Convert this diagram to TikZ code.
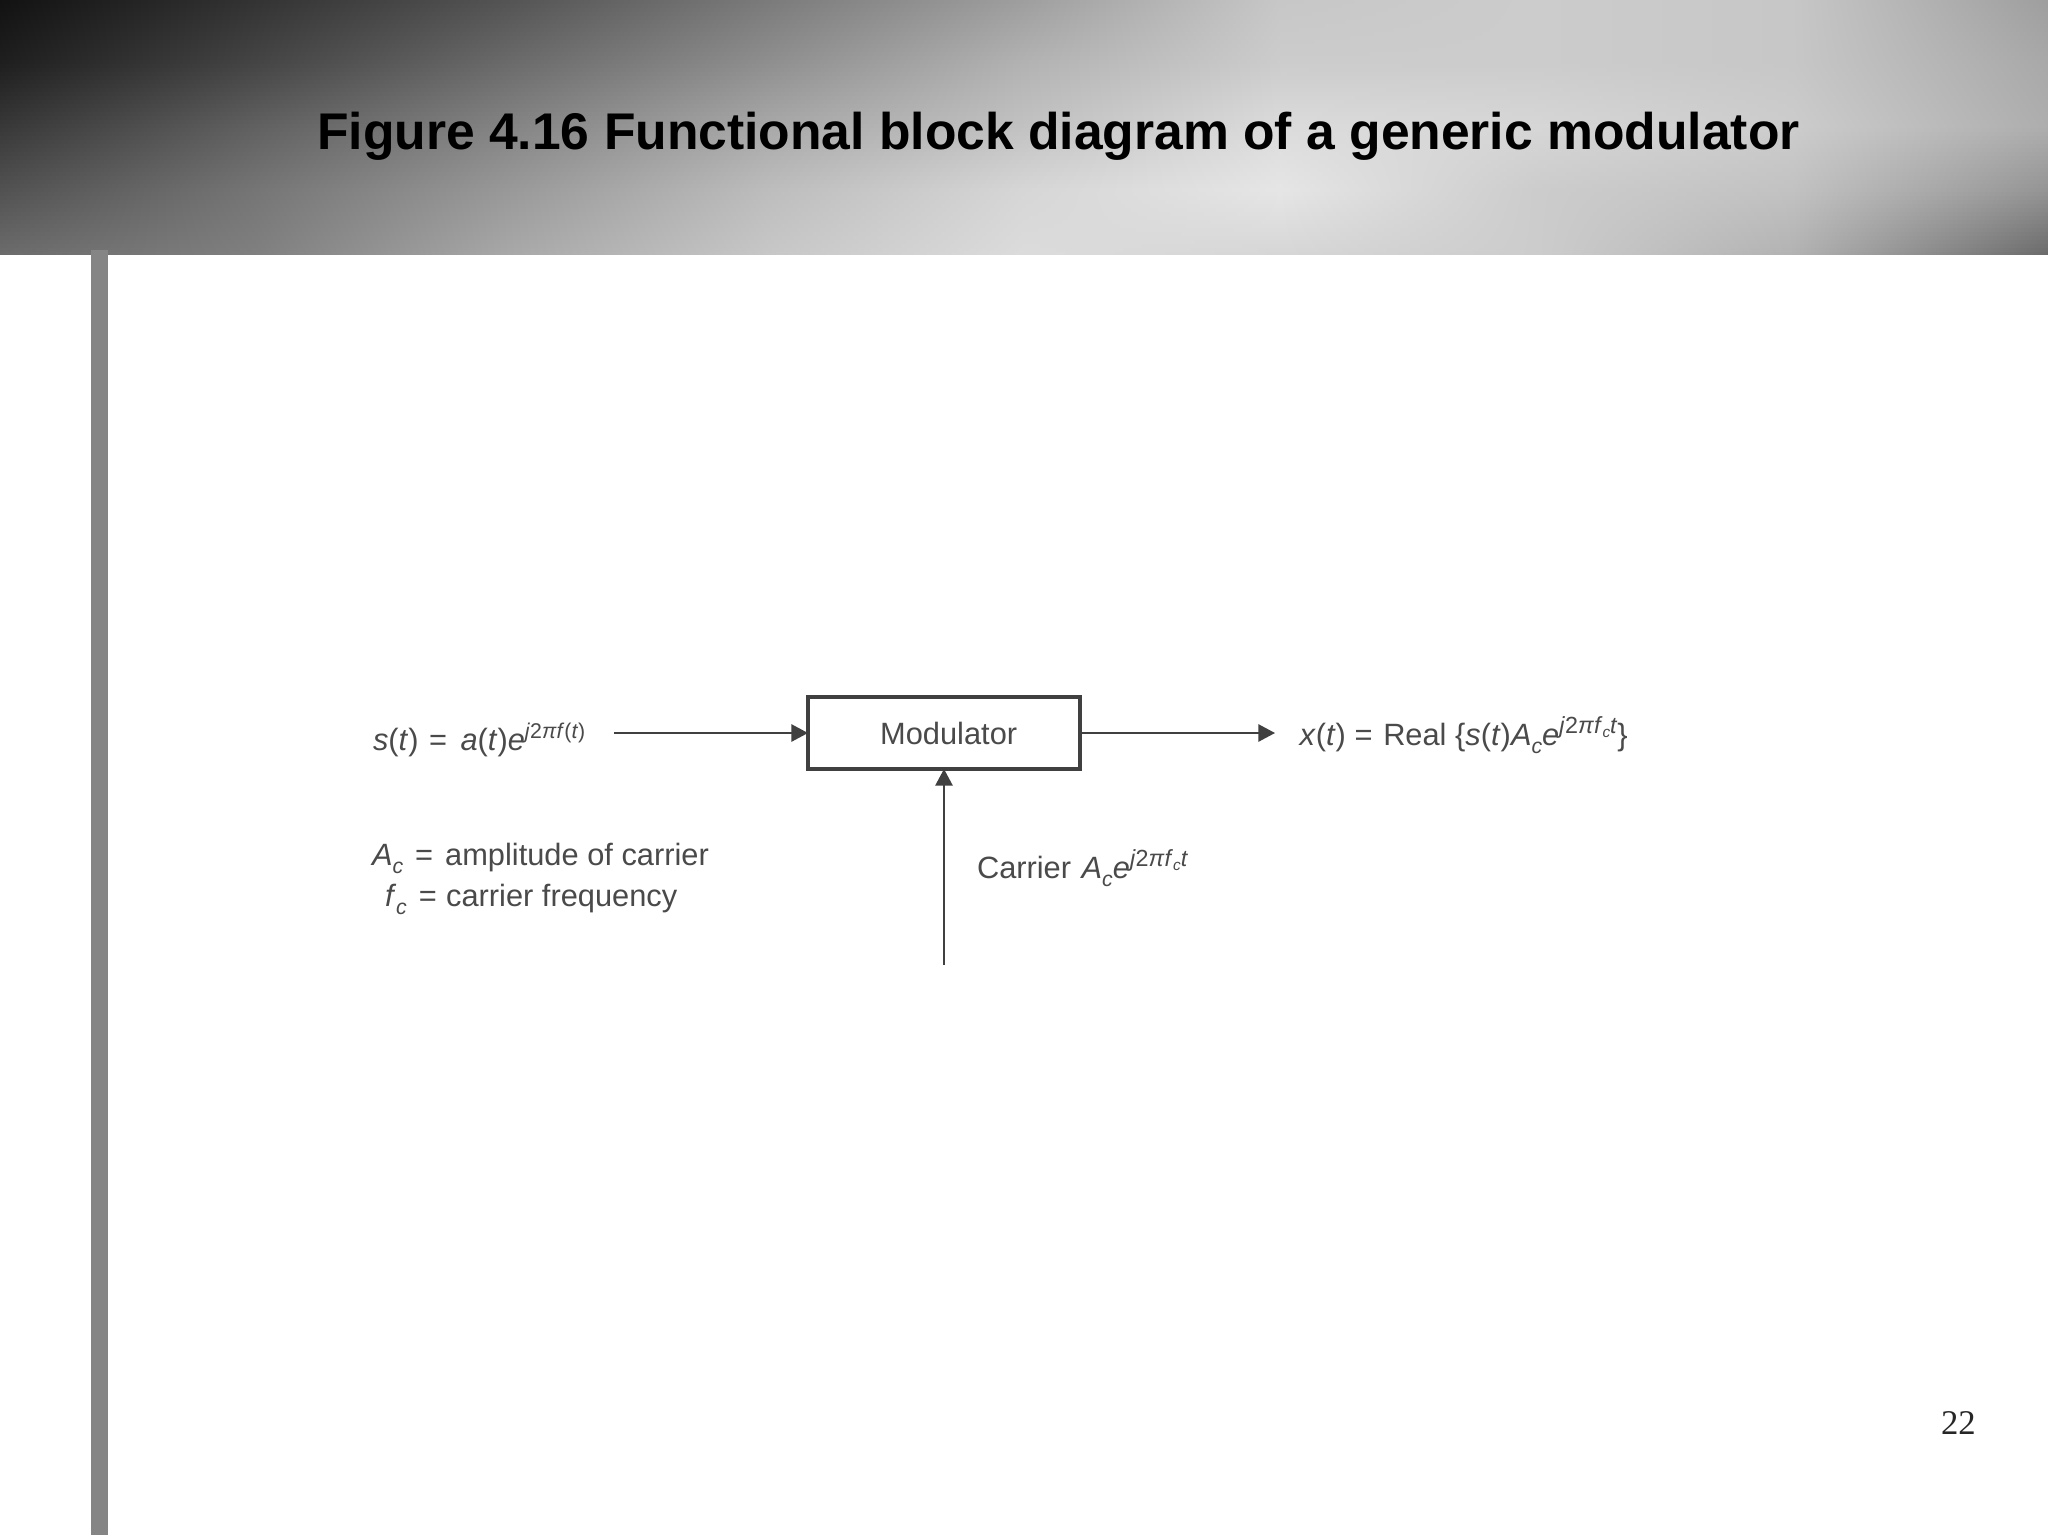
\documentclass[tikz,border=0pt]{standalone}
\usepackage{fontspec}
\setmainfont{Liberation Sans}
\newfontfamily\serifnum{Liberation Serif}
\usetikzlibrary{arrows.meta}
\definecolor{inkc}{HTML}{4A4A4A}
\definecolor{linec}{HTML}{404040}
\definecolor{barc}{HTML}{858585}
\newcommand\Hi[1]{\raisebox{8.5pt}{\fontsize{16}{16}\selectfont #1}}
\newcommand\HiB[1]{\raisebox{8.5pt}{\fontsize{17.5}{17.5}\selectfont #1}}
\newcommand\Lo[1]{\raisebox{-6pt}{\fontsize{16}{16}\selectfont\textit{#1}}}
\newcommand\Hh{\fontsize{11.5}{11.5}\selectfont}
\tikzset{
  lbl/.style={anchor=base west,inner sep=0pt,outer sep=0pt,text=inkc,font=\fontsize{23.1}{26}\selectfont},
  arr/.style={draw=linec,line width=1.3pt,-{Triangle[length=12.5pt,width=13pt,fill=linec]}},
  modbox/.style={draw=linec,line width=2.3pt,fill=white,minimum width=204pt,minimum height=54pt,inner sep=0pt,outer sep=0pt,text=inkc,font=\fontsize{23.1}{26}\selectfont},
}
\def\gt{{.07,.20,.33,.48,.62,.78,.80,.78,.62,
.12,.27,.42,.56,.70,.80,.80,.78,.66,
.22,.38,.52,.66,.76,.86,.84,.80,.68,
.32,.46,.60,.74,.84,.90,.80,.76,.58,
.42,.50,.66,.78,.86,.84,.80,.70,.42}}
\begin{document}
\begin{tikzpicture}[x=0.75pt,y=-0.75pt]
\useasboundingbox (0,0) rectangle (2048,1535);
\fill[white] (0,0) rectangle (2048,1535);
% header gradient: one horizontal shading per thin row
\begin{scope}
\clip (0,0) rectangle (2048,254);
\foreach \j in {0,...,63}{
  \pgfmathsetmacro\vv{(\j+.5)*4/254*4}
  \pgfmathtruncatemacro\iv{min(floor(\vv),3)}
  \pgfmathsetmacro\fv{\vv-\iv}
  \gdef\spec{}
  \foreach \k in {0,...,8}{
    \pgfmathtruncatemacro\ka{\iv*9+\k}
    \pgfmathsetmacro\g{(1-\fv)*\gt[\ka]+\fv*\gt[\ka+9]}
    \pgfmathsetmacro\pos{25+6.25*\k}
    \ifnum\k=0 \xdef\spec{gray(0bp)=(\g); gray(\pos bp)=(\g)}\else
    \xdef\spec{\spec; gray(\pos bp)=(\g)}\fi
    \ifnum\k=8 \xdef\spec{\spec; gray(100bp)=(\g)}\fi
  }
  \edef\tmp{\noexpand\pgfdeclarehorizontalshading{hrow\j}{100bp}{\spec}}\tmp
  \shade[shading=hrow\j] (0,\j*4) rectangle (2048,\j*4+5);
}
\end{scope}
% side bar
\fill[barc] (91,250) rectangle (108,1535);
% title and page number
\node[anchor=base west,inner sep=0pt,text=black,font=\fontsize{38.7}{44}\selectfont\bfseries] (title) at (317,149) {Figure 4.16 Functional block diagram of a generic modulator};
\node[anchor=base east,inner sep=0pt,text=black!85,font=\fontsize{26}{30}\selectfont\serifnum] (pagenum) at (1976,1434) {22};
% block
\node[modbox] (mod) at (944,733) {\hspace{7pt}Modulator};
\coordinate (inS) at (614,733);
\coordinate (outE) at (1275,733);
\coordinate (carS) at (944,965);
\draw[arr] (inS) -- (mod.west);
\draw[arr] (mod.east) -- (outE);
\draw[arr] (carS) -- (mod.south);
% labels
\node[lbl] (sig) at (373,750) {\textit{s}(\textit{t})\hspace{8pt}=\hspace{10pt}\textit{a}(\textit{t})\textit{e}\Hi{\textit{j}2\textit{π}\textit{f}(\textit{t})}};
\node[lbl] (ac) at (372,865) {\textit{A}\Lo{c}\hspace{9pt}=\hspace{9pt}amplitude of carrier};
\node[lbl] (fc) at (385,906) {\textit{f}\Lo{c}\hspace{9pt}=\hspace{7pt}carrier frequency};
\node[lbl] (xout) at (1299.5,745) {\textit{x}(\textit{t})\hspace{6.5pt}=\hspace{8pt}Real \{\textit{s}(\textit{t})\textit{A}\Lo{c}\textit{e}\HiB{\textit{j}2\textit{π}\textit{f}\raisebox{-3pt}{\Hh\textit{c}}\textit{t}}\}};
\node[lbl] (car) at (977,878) {Carrier\hspace{1.5pt} \textit{A}\Lo{c}\textit{e}\HiB{\textit{j}2\textit{π}\textit{f}\raisebox{-3pt}{\Hh\textit{c}}\textit{t}}};
\end{tikzpicture}
\end{document}
